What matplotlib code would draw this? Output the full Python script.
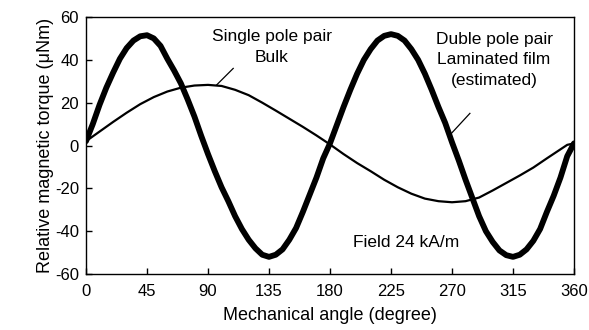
import numpy as np
import matplotlib.pyplot as plt

plt.rcParams['font.family'] = ['Liberation Sans', 'DejaVu Sans']
plt.rcParams['axes.unicode_minus'] = False

# single pole pair, bulk (thin line)
angle_single = [0, 10, 20, 30, 40, 50, 60, 70, 80, 90, 100, 110, 120, 130, 140, 150,
                160, 170, 180, 190, 200, 210, 220, 230, 240, 250, 260, 270, 280, 290,
                300, 310, 320, 330, 340, 350, 355, 360]
torque_single = [2, 6.5, 11, 15.3, 19.3, 22.6, 25.2, 27, 28, 28.3, 27.8, 26, 23.5, 20, 16.3, 12.5,
                 8.7, 4.7, 0.5, -4, -8.2, -12, -16, -19.5, -22.5, -24.8, -26, -26.5, -26, -24.3,
                 -21, -17.5, -14, -10.3, -6, -1.8, 0.3, 1]

# double pole pair, laminated film (thick line)
angle_double = list(range(0, 365, 5))
torque_double = [2, 10, 19, 27, 34, 40.5, 45.5, 49, 51, 51.5, 50, 46.5,
                 40.5, 35, 29, 21.5, 13.5, 4.5, -4, -12, -19.5, -26, -33, -39,
                 -44, -48, -51, -52, -51, -48.5, -44, -38.5, -31, -23, -15, -6,
                 1, 9.5, 18, 26, 33.5, 40, 45, 49, 51.2, 52, 51.2, 49,
                 45, 40, 33.5, 26, 18, 10.5, 1.5, -7, -16, -24.5, -33, -40,
                 -45, -49, -51.2, -52, -51, -48.5, -44.5, -39, -31, -23.5, -15, -5, 1]

xticks = [0, 45, 90, 135, 180, 225, 270, 315, 360]
yticks = [-60, -40, -20, 0, 20, 40, 60]

fig = plt.figure(figsize=(5.89, 3.3), dpi=100)
ax = fig.add_axes([86 / 589, 1 - 274 / 330, 488 / 589, 257 / 330])

ax.plot(angle_double, torque_double, color='black', lw=4.2, solid_capstyle='round',
        solid_joinstyle='round')
ax.plot(angle_single, torque_single, color='black', lw=1.6)

ax.set_xlim(0, 360)
ax.set_ylim(-60, 60)
ax.set_xticks(xticks)
ax.set_yticks(yticks)
ax.tick_params(direction='in', length=4.3, width=1, labelsize=12, top=False, right=False)
ax.tick_params(axis='x', pad=7)
ax.tick_params(axis='y', pad=5)
for s in ax.spines.values():
    s.set_linewidth(1)

ax.set_xlabel('Mechanical angle (degree)', fontsize=13, labelpad=6)
ax.set_ylabel('Relative magnetic torque (\u03bcNm)', fontsize=13, labelpad=1)

# labels and leader lines
ax.text(137, 46, 'Single pole pair\nBulk', ha='center', va='center', fontsize=12.5,
        linespacing=1.45)
ax.plot([96.4, 108.6], [28.3, 36], color='black', lw=0.9)

ax.text(301, 40, 'Duble pole pair\nLaminated film\n(estimated)', ha='center', va='center',
        fontsize=12.5, linespacing=1.45)
ax.plot([269.6, 283.2], [5.7, 15], color='black', lw=0.9)

ax.text(236, -45.2, 'Field 24 kA/m', ha='center', va='center', fontsize=12.5)

fig.savefig('out.png', dpi=100)
